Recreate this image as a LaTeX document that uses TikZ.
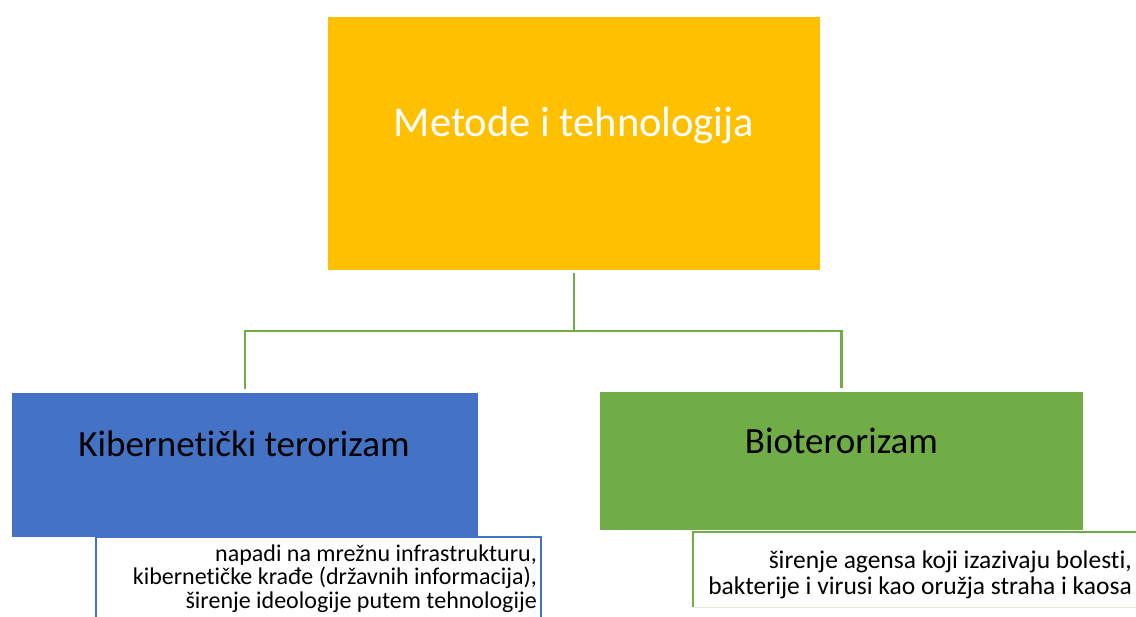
\documentclass[tikz,border=0pt]{standalone}
\usepackage{fontspec}
\setmainfont{Carlito}[Ligatures=NoCommon]
\definecolor{gold}{HTML}{FFC000}
\definecolor{cblue}{HTML}{4472C4}
\definecolor{cgreen}{HTML}{70AD47}
\definecolor{lgreen}{HTML}{E2EFDA}
\tikzset{
  fillbox/.style={rectangle, draw=none, inner sep=0pt, outer sep=0pt},
  bigtxt/.style={anchor=base, inner sep=0pt, font=\fontsize{37}{44}\selectfont},
  smalltxt/.style={anchor=base east, align=right, inner sep=0pt, font=\fontsize{24}{23.5}\selectfont},
  conn/.style={draw=cgreen, line width=2.5pt}
}
\begin{document}
\begin{tikzpicture}[x=1pt,y=-1pt]
\useasboundingbox (0,0) rectangle (1136,617);
\clip (0,0) rectangle (1136,617);
% main boxes
\node[fillbox, fill=gold, minimum width=492pt, minimum height=253pt] (top) at (574,143.5) {};
\node[fillbox, fill=cblue, minimum width=466pt, minimum height=144pt] (kib) at (245,465) {};
\node[fillbox, fill=cgreen, minimum width=483pt, minimum height=138pt] (bio) at (841.5,461) {};
% detail boxes
\node[fillbox, fill=white, draw=cblue, line width=2pt, minimum width=445pt, minimum height=103pt] (kibd) at (318.5,588.5) {};
\node[fillbox, fill=white, minimum width=457pt, minimum height=75pt] (biod) at (921.5,569.5) {};
\draw[cgreen, line width=2pt] (biod.south west) -- (biod.north west) -- (biod.north east);
\draw[lgreen, line width=1pt] (biod.south west) -- (biod.south east);
% connectors
\coordinate (hub) at (574,331);
\draw[conn] ([yshift=-3pt]top.south) -- (hub);
\draw[conn] (hub) -| ([yshift=4pt]kib.north);
\draw[conn] (hub) -| ([yshift=4pt]bio.north);
% texts
\node[bigtxt, text=white, font=\fontsize{42.5}{50}\selectfont] (toptxt) at (574,137) {Metode i tehnologija};
\node[bigtxt] (kibtxt) at (244,457) {Kibernetički terorizam};
\node[bigtxt] (biotxt) at (841.5,454) {Bioterorizam};
\node[smalltxt] (kibdtxt) at (537,608) {napadi na mrežnu infrastrukturu,\\kibernetičke krađe (državnih informacija),\\širenje ideologije putem tehnologije};
\node[smalltxt, font=\fontsize{25.5}{25}\selectfont] (biodtxt) at (1132,594) {širenje agensa koji izazivaju bolesti,\\bakterije i virusi kao oružja straha i kaosa};
\end{tikzpicture}
\end{document}
